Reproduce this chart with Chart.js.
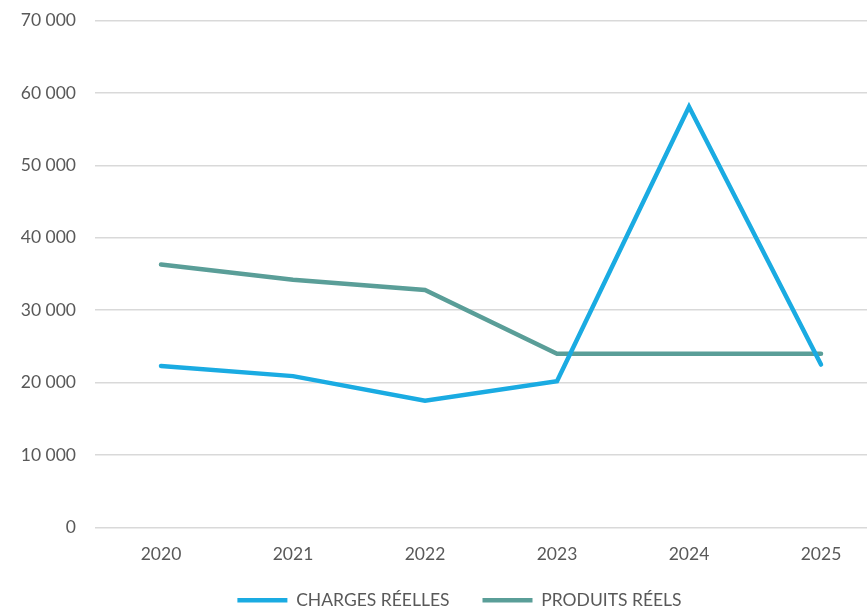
<!DOCTYPE html>
<html>
<head>
<meta charset="utf-8">
<script src="https://cdn.jsdelivr.net/npm/chart.js@4/dist/chart.umd.min.js"></script>
<style>
  html, body { margin: 0; padding: 0; background: #fff; overflow: hidden; }
  #wrap { width: 867px; height: 610px; overflow: hidden; }
  #chart { margin-top: -9px; display: block; }
</style>
</head>
<body>
<div id="wrap"><canvas id="chart" width="892" height="650"></canvas></div>
<script>
// years on the x axis
const years = ['2020', '2021', '2022', '2023', '2024', '2025'];
// values
const charges = [22300, 20900, 17500, 20200, 58100, 22500];
const produits = [36300, 34200, 32800, 24000, 24000, 24000];
const yTicks = [0, 10000, 20000, 30000, 40000, 50000, 60000, 70000];

const grey = '#595959';
const font = { family: 'Lato', size: 17.5 };

function fmt(v) {
    return String(v).replace(/\B(?=(\d{3})+(?!\d))/g, ' ');
}

// move the legend to where it sits in the original
const legendShift = {
    id: 'legendShift',
    afterLayout: function (chart) {
        chart.legend.left += 16;
        chart.legend.right += 16;
        chart.legend.top -= 22;
        chart.legend.bottom -= 22;
    }
};

function draw() {
    let ctx = document.getElementById('chart');
    let myChart = new Chart(ctx, {
        type: 'line',
        data: {
            labels: years,
            datasets: [
                {
                    label: 'CHARGES RÉELLES',
                    data: charges,
                    borderColor: '#1AABE2',
                    backgroundColor: '#1AABE2',
                    borderWidth: 4.5,
                    borderCapStyle: 'round',
                    pointRadius: 0,
                    pointStyle: 'line',
                    tension: 0
                },
                {
                    label: 'PRODUITS RÉELS',
                    data: produits,
                    borderColor: '#5A9E98',
                    backgroundColor: '#5A9E98',
                    borderWidth: 4.5,
                    borderCapStyle: 'round',
                    pointRadius: 0,
                    pointStyle: 'line',
                    tension: 0
                }
            ]
        },
        options: {
            responsive: false,
            animation: false,
            layout: { padding: { top: 3, right: 5, bottom: 0, left: 0 } },
            plugins: {
                tooltip: { enabled: false },
                legend: {
                    position: 'bottom',
                    labels: {
                        usePointStyle: true,
                        pointStyleWidth: 50,
                        color: grey,
                        font: font,
                        padding: 33
                    }
                }
            },
            scales: {
                x: {
                    offset: true,
                    grid: { display: false, drawTicks: false },
                    border: { display: false },
                    ticks: { color: grey, font: font, padding: 16 }
                },
                y: {
                    min: 0,
                    max: 70000,
                    afterBuildTicks: function (scale) {
                        scale.ticks = yTicks.map(function (v) { return { value: v }; });
                    },
                    afterFit: function (scale) { scale.width = 95; },
                    grid: { color: '#D9D9D9', lineWidth: 1.5, drawTicks: false },
                    border: { display: false },
                    ticks: {
                        color: grey,
                        font: font,
                        padding: 19,
                        callback: function (v) { return fmt(v); }
                    }
                }
            }
        },
        plugins: [legendShift]
    });
}

document.fonts.load('17.5px Lato').then(draw, draw);
</script>
</body>
</html>
